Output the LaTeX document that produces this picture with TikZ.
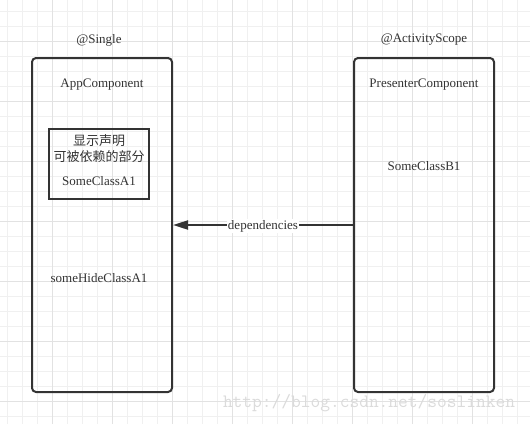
\documentclass[tikz,border=0pt]{standalone}
\usepackage{fontspec}
\setmainfont{Liberation Serif}
\newfontfamily\cjk{Noto Sans CJK SC}
\usetikzlibrary{arrows.meta, positioning}

\definecolor{ink}{HTML}{333333}
\definecolor{gridminor}{HTML}{F0F0F0}
\definecolor{gridmajor}{HTML}{E2E2E2}

\begin{document}
\begin{tikzpicture}[x=1pt, y=-1pt, >={Triangle[length=15pt, width=9pt]},
        every node/.style={text=ink, font=\fontsize{13}{15}\selectfont},
        comp/.style={rectangle, draw=ink, line width=2pt, rounded corners=4pt, minimum width=140pt, minimum height=334pt},
        shown/.style={rectangle, draw=ink, line width=2pt, minimum width=100pt, minimum height=70pt},
        label/.style={inner sep=0pt},
        minorline/.style={draw=gridminor, line width=0.8pt},
        majorline/.style={draw=gridmajor, line width=0.8pt}]

        \useasboundingbox (0,0) rectangle (530,424);
        \fill[white] (0,0) rectangle (530,424);

        % background grid
        \foreach \x in {7,22,...,527} \draw[minorline] (\x,0) -- (\x,424);
        \foreach \y in {11,26,...,424} \draw[minorline] (0,\y) -- (530,\y);
        \foreach \x in {52,112,...,527} \draw[majorline] (\x,0) -- (\x,424);
        \foreach \y in {41,101,...,424} \draw[majorline] (0,\y) -- (530,\y);

        % components
        \node (app) [comp] at (102,225) {};
        \node (presenter) [comp] at (424,225) {};
        \node (shownbox) [shown] at (99,164) {};

        \node (single) [label] at (99,40) {@Single};
        \node (scope) [label] at (424,40) {@ActivityScope};
        \node (appname) [label] at (102,85) {AppComponent};
        \node (presname) [label] at (424,85) {PresenterComponent};
        \node (classb) [label] at (424,166) {SomeClassB1};
        \node (hidea) [label] at (99,278) {someHideClassA1};

        \node (shownhead) [label, align=center, font=\cjk\fontsize{13}{16}\selectfont] at (99,149) {显示声明\\可被依赖的部分};
        \node (classa) [label, below=13pt of shownhead.south] {SomeClassA1};

        \draw[->, draw=ink, fill=ink, line width=2pt] (presenter.west) -- node[fill=white, inner sep=1pt, yshift=-1pt] {dependencies} (app.east);

        % watermark
        \node (mark) [label, text=black!14, font=\ttfamily\fontsize{18.9}{20}\selectfont] at (369,403) {http://blog.csdn.net/soslinken};
    \end{tikzpicture}
\end{document}
